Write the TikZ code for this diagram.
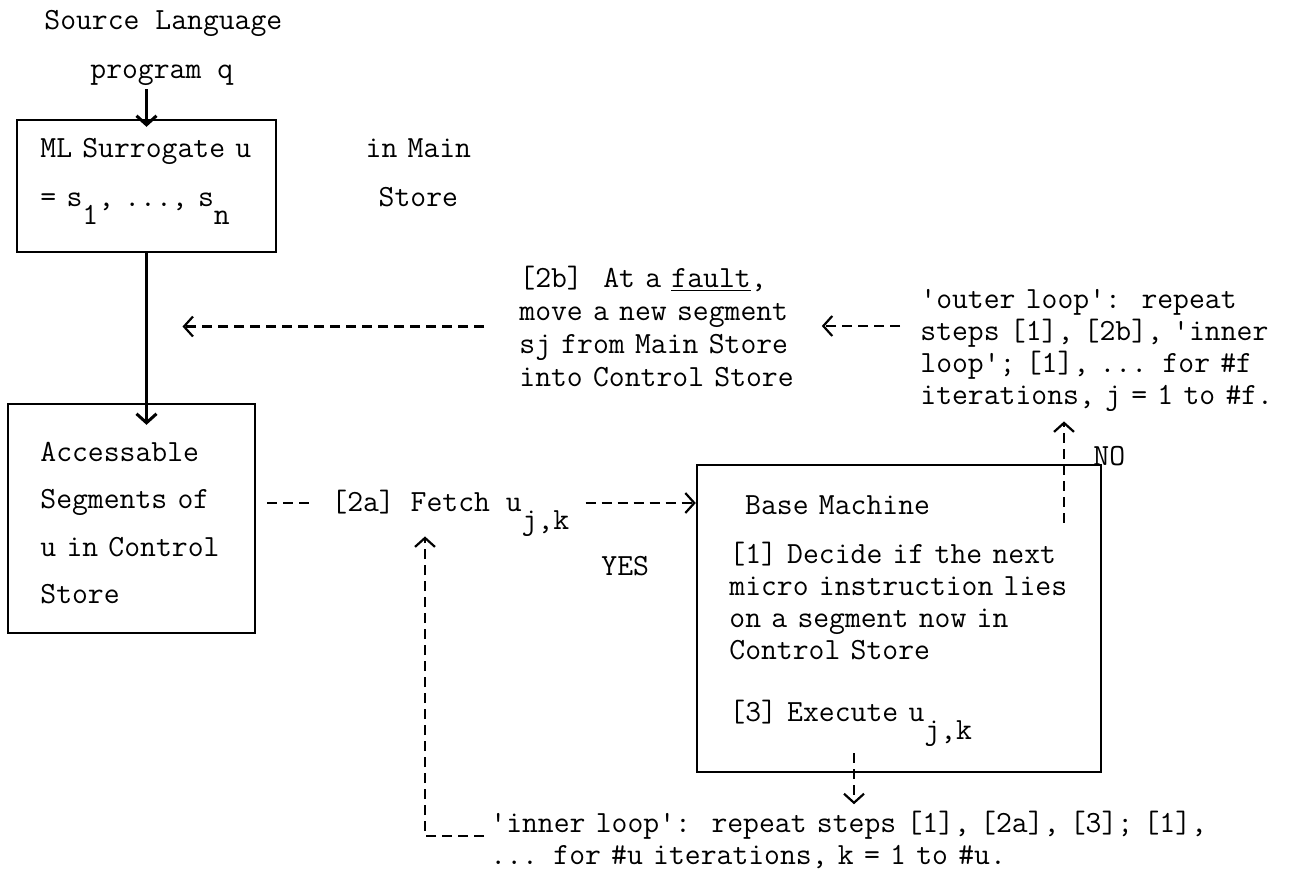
\documentclass[tikz,border=0pt]{standalone}
\usepackage{tikz}
\usetikzlibrary{arrows.meta, positioning, calc}
\newcommand{\lowsub}[1]{\raisebox{-9pt}{#1}}
\newcommand{\sq}{\textquotesingle}
\tikzset{
  tw/.style={font=\ttfamily\fontsize{15.4}{16}\selectfont, inner sep=0pt, align=left, anchor=base west},
  boxed/.style={draw, line width=1.2pt, inner sep=0pt},
  solidarr/.style={line width=1.5pt, -{Straight Barb[length=4.5pt,width=10pt]}},
  dashln/.style={line width=1.1pt, dash pattern=on 5pt off 3pt},
  dasharr/.style={dashln, -{Straight Barb[length=4.5pt,width=10pt]}},
}
\begin{document}
\begin{tikzpicture}[x=0.5pt, y=-0.5pt]
  \fill[white] (0,0) rectangle (1313,874);
  % the three boxes
  \node[boxed, minimum width=129.5pt, minimum height=66pt] (ml) at (146.5,186) {};
  \node[boxed, minimum width=123.5pt, minimum height=114.5pt] (acc) at (131.5,518.5) {};
  \node[boxed, minimum width=202pt, minimum height=153.5pt] (base) at (899,618.5) {};
  % typed texts
  \node[tw] (src) at (44,29) {Source Language};
  \node[tw] (prog) at (90,78) {program q};
  \node[tw, text width=118pt] (mltext) at (40,157) {ML Surrogate u\\[8.5pt]= s\lowsub{1}, ..., s\lowsub{n}};
  \node[tw, text width=56pt, align=center] (inmain) at (362,157) {in Main\\[8.5pt]Store};
  \node[tw, text width=105pt] (acctext) at (40,461) {Accessable\\[7.8pt]Segments of\\[7.8pt]u in Control\\[7.8pt]Store};
  \node[tw] (fetch) at (331,511) {[2a] Fetch u\lowsub{j,k}};
  \node[tw] (yes) at (601,575) {YES};
  \node[tw] (no) at (1093,465) {NO};
  \node[tw, text width=142pt] (fault) at (519,287) {[2b]\ \ At a \underline{fault},\\[0.5pt] move a new segment\\[0.5pt] sj from Main Store\\[0.5pt] into Control Store};
  \node[tw, text width=182pt] (outer) at (920,308) {\sq outer loop\sq:\ \ repeat\\ steps [1], [2b], \sq inner\\ loop\sq; [1], ... for \#f\\ iterations, j = 1 to \#f.};
  \node[tw, text width=178pt] (basetext) at (729,514) {\hspace*{0.514em}Base Machine\\[8.5pt] [1] Decide if the next\\ micro instruction lies\\ on a segment now in\\ Control Store\\[15pt] [3] Execute u\lowsub{j,k}};
  \node[tw, text width=380pt] (inner) at (490,832) {\sq inner loop\sq:\ \ repeat steps [1], [2a], [3]; [1],\\ ... for \#u iterations, k = 1 to \#u.};
  % solid flow down the left side
  \draw[solidarr, shorten <=2pt] (prog.south -| ml.north) -- ([yshift=-4pt]ml.north);
  \draw[solidarr] (ml.south) -- ([yshift=-11pt]ml.south |- acc.north);
  % [2b] fault path
  \coordinate (seg) at ($(ml.south)!0.49!(ml.south |- acc.north)$);
  \draw[dasharr, shorten <=17.5pt, shorten >=18pt] (seg -| fault.west) -- (seg);
  \draw[dasharr, shorten <=10pt, shorten >=9pt] (outer.west |- fault.east) -- (fault.east);
  % [2a] fetch path
  \coordinate (fy) at ([yshift=4pt]fetch.base west);
  \draw[dashln, shorten <=5.5pt, shorten >=10.5pt] (acc.east |- fy) -- (fy);
  \draw[dasharr, shorten <=8pt] (fetch.east |- fy) -- (base.west |- fy);
  % NO: outer loop
  \coordinate (nob) at ($(base.north)+(165,59)$);
  \draw[dasharr, shorten >=5pt] (nob) -- (nob |- outer.south);
  % execute, then inner loop back to fetch
  \coordinate (exe) at ($(base.south)+(-45,-20)$);
  \draw[dasharr, shorten >=3pt] (exe) -- (exe |- inner.north);
  \coordinate (loopc) at ($(fetch.base west)+(94,325)$);
  \draw[dasharr, shorten <=3pt] (loopc -| inner.west) -- (loopc) -- (loopc |- fetch.south);
\end{tikzpicture}
\end{document}
